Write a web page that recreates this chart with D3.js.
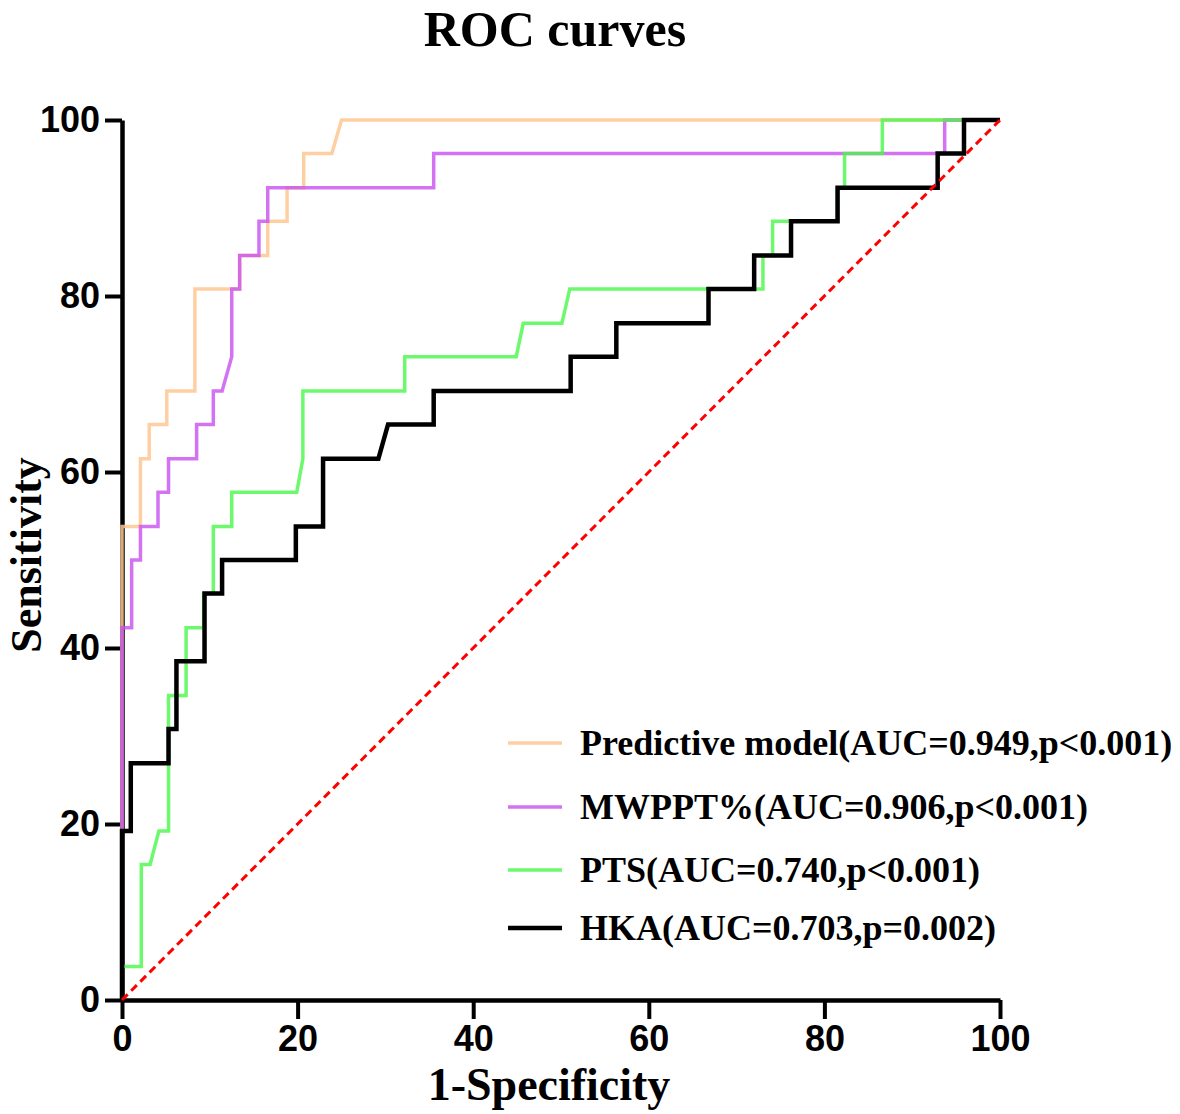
<!DOCTYPE html>
<html>
<head>
<meta charset="utf-8">
<script src="https://cdn.jsdelivr.net/npm/d3@7"></script>
<style>
  body { margin: 0; background: #fff; }
  svg { display: block; }
</style>
</head>
<body>
<div id="chart"></div>
<script>
// ROC curves - steps (x = 1-specificity %, y = sensitivity %)
var modelX = [0, 0, 2.1, 2.1, 3.1, 3.1, 5.1, 5.1, 8.3, 8.3, 13.4, 13.4, 16.6, 16.6, 18.8, 18.8, 20.7, 20.7, 23.9, 25.0, 100];
var modelY = [0, 53.8, 53.8, 61.5, 61.5, 65.4, 65.4, 69.2, 69.2, 80.8, 80.8, 84.6, 84.6, 88.5, 88.5, 92.3, 92.3, 96.2, 96.2, 100, 100];

var mwpptX = [0, 0, 1.1, 1.1, 2.1, 2.1, 4.1, 4.1, 5.3, 5.3, 8.5, 8.5, 10.4, 10.4, 11.4, 12.5, 12.5, 13.4, 13.4, 15.6, 15.6, 16.6, 16.6, 35.5, 35.5, 93.7, 93.7, 100];
var mwpptY = [0, 42.3, 42.3, 50, 50, 53.8, 53.8, 57.7, 57.7, 61.5, 61.5, 65.4, 65.4, 69.2, 69.2, 73.1, 80.8, 80.8, 84.6, 84.6, 88.5, 88.5, 92.3, 92.3, 96.2, 96.2, 100, 100];

var ptsX = [0, 0, 2.2, 2.2, 3.2, 4.2, 5.3, 5.3, 7.3, 7.3, 9.3, 9.3, 10.4, 10.4, 12.5, 12.5, 19.9, 20.6, 20.6, 32.2, 32.2, 44.9, 45.7, 50.1, 51.0, 73.0, 73.0, 74.1, 74.1, 81.5, 81.5, 82.3, 82.3, 86.6, 86.6, 100];
var ptsY = [0, 3.8, 3.8, 15.4, 15.4, 19.2, 19.2, 34.6, 34.6, 42.3, 42.3, 46.2, 46.2, 53.8, 53.8, 57.7, 57.7, 61.5, 69.2, 69.2, 73.1, 73.1, 76.9, 76.9, 80.8, 80.8, 84.6, 84.6, 88.5, 88.5, 92.3, 92.3, 96.2, 96.2, 100, 100];

var hkaX = [0, 0, 1.0, 1.0, 5.3, 5.3, 6.2, 6.2, 9.4, 9.4, 11.4, 11.4, 19.8, 19.8, 22.9, 22.9, 29.2, 30.3, 35.5, 35.5, 51.1, 51.1, 56.3, 56.3, 66.8, 66.8, 72.0, 72.0, 76.2, 76.2, 81.5, 81.5, 92.9, 92.9, 95.9, 95.9, 100];
var hkaY = [0, 19.2, 19.2, 26.9, 26.9, 30.8, 30.8, 38.5, 38.5, 46.2, 46.2, 50, 50, 53.8, 53.8, 61.5, 61.5, 65.4, 65.4, 69.2, 69.2, 73.1, 73.1, 76.9, 76.9, 80.8, 80.8, 84.6, 84.6, 88.5, 88.5, 92.3, 92.3, 96.2, 96.2, 100, 100];

var refX = [0, 100];
var refY = [0, 100];

var ticks = [0, 20, 40, 60, 80, 100];
var legendLabels = [
  "Predictive model(AUC=0.949,p<0.001)",
  "MWPPT%(AUC=0.906,p<0.001)",
  "PTS(AUC=0.740,p<0.001)",
  "HKA(AUC=0.703,p=0.002)"
];

var W = 1180, H = 1114;
var margin = {top: 120, right: 180, bottom: 114, left: 122};
var w = W - margin.left - margin.right,
    h = H - margin.top - margin.bottom;

var serif = "'Liberation Serif', 'Times New Roman', serif";
var sans = "'Liberation Sans', Arial, sans-serif";

var svg = d3.select("#chart").append("svg")
    .attr("width", W)
    .attr("height", H);

var g = svg.append("g")
    .attr("transform", "translate(" + margin.left + "," + margin.top + ")");

var x = d3.scaleLinear().domain([0, 100]).range([0, w]);
var y = d3.scaleLinear().domain([0, 100]).range([h, 0]);

// axes
var xAxis = g.append("g")
    .attr("transform", "translate(0," + h + ")")
    .call(d3.axisBottom(x).tickValues(ticks).tickSize(19).tickSizeOuter(0).tickPadding(6));
var yAxis = g.append("g")
    .call(d3.axisLeft(y).tickValues(ticks).tickSize(17).tickSizeOuter(0).tickPadding(5));

[xAxis, yAxis].forEach(function(a) {
  a.select(".domain").attr("stroke", "#000").attr("stroke-width", 4.5);
  a.selectAll(".tick line").attr("stroke", "#000").attr("stroke-width", 4);
  a.selectAll(".tick text")
    .attr("fill", "#000")
    .style("font-family", sans)
    .style("font-weight", "bold")
    .style("font-size", "36px");
});

// series: colour, width, opacity
var series = [
  {xs: modelX, ys: modelY, color: "#FFC794", width: 3.5, op: 0.85},
  {xs: mwpptX, ys: mwpptY, color: "#C850F0", width: 3.5, op: 0.8},
  {xs: ptsX, ys: ptsY, color: "#48F848", width: 3.5, op: 0.8},
  {xs: hkaX, ys: hkaY, color: "#000000", width: 4.5, op: 1}
];

var line = d3.line()
    .x(function(d) { return x(d[0]); })
    .y(function(d) { return y(d[1]); });

series.forEach(function(s) {
  g.append("path")
    .datum(d3.zip(s.xs, s.ys))
    .attr("d", line)
    .attr("fill", "none")
    .attr("stroke", s.color)
    .attr("stroke-opacity", s.op)
    .attr("stroke-width", s.width)
    .attr("stroke-linejoin", "miter");
});

// reference diagonal
g.append("path")
  .datum(d3.zip(refX, refY))
  .attr("d", line)
  .attr("fill", "none")
  .attr("stroke", "#FF0000")
  .attr("stroke-width", 3)
  .style("stroke-dasharray", "8,5");

// title & axis labels
svg.append("text")
  .attr("x", 555).attr("y", 46)
  .attr("text-anchor", "middle")
  .style("font-family", serif).style("font-weight", "bold").style("font-size", "50px")
  .text("ROC curves");

svg.append("text")
  .attr("x", 549).attr("y", 1100)
  .attr("text-anchor", "middle")
  .style("font-family", serif).style("font-weight", "bold").style("font-size", "46px")
  .text("1-Specificity");

svg.append("text")
  .attr("transform", "translate(41,555) rotate(-90)")
  .attr("text-anchor", "middle")
  .style("font-family", serif).style("font-weight", "bold").style("font-size", "44px")
  .text("Sensitivity");

// legend
var leg = svg.append("g").attr("transform", "translate(508,743)");
legendLabels.forEach(function(lab, i) {
  var s = series[i];
  var ly = [0, 64, 127, 185][i];
  leg.append("line")
    .attr("x1", 0).attr("x2", 54)
    .attr("y1", ly).attr("y2", ly)
    .attr("stroke", s.color)
    .attr("stroke-opacity", s.op)
    .attr("stroke-width", s.width);
  leg.append("text")
    .attr("x", 72).attr("y", ly + 12)
    .style("font-family", serif).style("font-weight", "bold").style("font-size", "36px")
    .text(lab);
});
</script>
</body>
</html>
